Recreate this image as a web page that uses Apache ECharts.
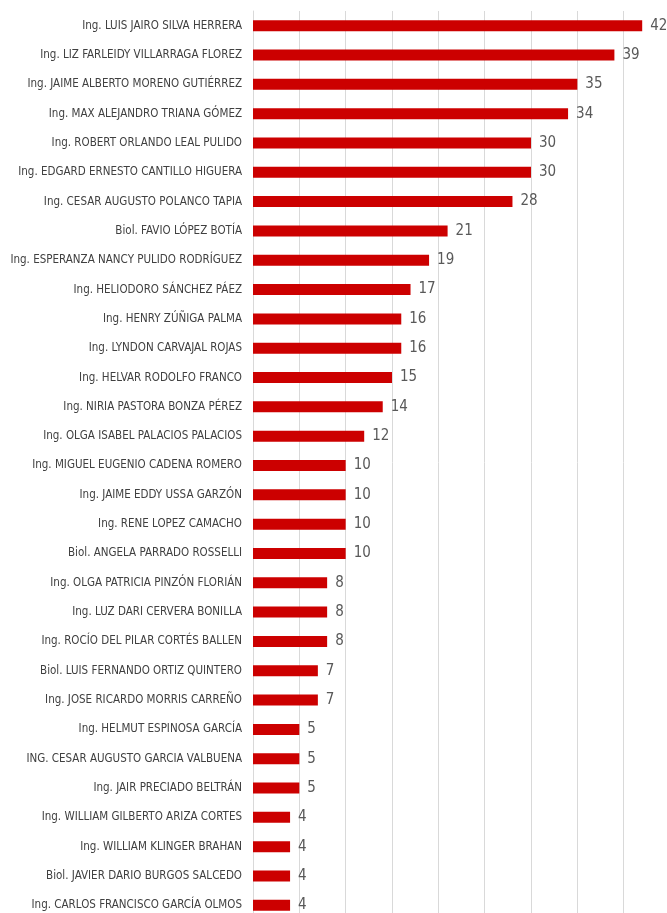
<!DOCTYPE html>
<html>
<head>
<meta charset="utf-8">
<script src="https://cdn.jsdelivr.net/npm/echarts@6/dist/echarts.min.js"></script>
<style>
  html, body { margin: 0; padding: 0; background: #fff; overflow: hidden; }
  #chart { width: 667px; height: 913px; }
</style>
</head>
<body>
<div id="chart"></div>
<script>
var names = [
  'Ing. LUIS JAIRO SILVA HERRERA',
  'Ing. LIZ FARLEIDY VILLARRAGA FLOREZ',
  'Ing. JAIME ALBERTO MORENO GUTIÉRREZ',
  'Ing. MAX ALEJANDRO TRIANA GÓMEZ',
  'Ing. ROBERT ORLANDO LEAL PULIDO',
  'Ing. EDGARD ERNESTO CANTILLO HIGUERA',
  'Ing. CESAR AUGUSTO POLANCO TAPIA',
  'Biol. FAVIO LÓPEZ BOTÍA',
  'Ing. ESPERANZA NANCY PULIDO RODRÍGUEZ',
  'Ing. HELIODORO SÁNCHEZ PÁEZ',
  'Ing. HENRY ZÚÑIGA PALMA',
  'Ing. LYNDON CARVAJAL ROJAS',
  'Ing. HELVAR RODOLFO FRANCO',
  'Ing. NIRIA PASTORA BONZA PÉREZ',
  'Ing. OLGA ISABEL PALACIOS PALACIOS',
  'Ing. MIGUEL EUGENIO CADENA ROMERO',
  'Ing. JAIME EDDY USSA GARZÓN',
  'Ing. RENE LOPEZ CAMACHO',
  'Biol. ANGELA PARRADO ROSSELLI',
  'Ing. OLGA PATRICIA PINZÓN FLORIÁN',
  'Ing. LUZ DARI CERVERA BONILLA',
  'Ing. ROCÍO DEL PILAR CORTÉS BALLEN',
  'Biol. LUIS FERNANDO ORTIZ QUINTERO',
  'Ing. JOSE RICARDO MORRIS CARREÑO',
  'Ing. HELMUT ESPINOSA GARCÍA',
  'ING. CESAR AUGUSTO GARCIA VALBUENA',
  'Ing. JAIR PRECIADO BELTRÁN',
  'Ing. WILLIAM GILBERTO ARIZA CORTES',
  'Ing. WILLIAM KLINGER BRAHAN',
  'Biol. JAVIER DARIO BURGOS SALCEDO',
  'Ing. CARLOS FRANCISCO GARCÍA OLMOS'
]
var counts = [42, 39, 35, 34, 30, 30, 28, 21, 19, 17, 16, 16, 15, 14, 12, 10, 10, 10, 10, 8, 8, 8, 7, 7, 5, 5, 5, 4, 4, 4, 4]

var font = '"DejaVu Sans Condensed", "Liberation Sans Narrow", sans-serif'

var chart = echarts.init(document.getElementById('chart'))
chart.setOption({
  animation: false,
  grid: { left: 253, top: 11, width: 417, height: 909, containLabel: false, outerBoundsMode: 'none' },
  xAxis: {
    type: 'value',
    min: 0,
    max: 45,
    interval: 5,
    axisLabel: { show: false },
    axisLine: { show: false },
    axisTick: { show: false },
    splitLine: { lineStyle: { color: '#d9d9d9', width: 1 } }
  },
  yAxis: {
    type: 'category',
    inverse: true,
    data: names,
    axisTick: { show: false },
    axisLine: { lineStyle: { color: '#d9d9d9' } },
    axisLabel: { color: '#404040', fontSize: 11.5, fontFamily: font, margin: 11 }
  },
  series: [{
    type: 'bar',
    data: counts,
    barWidth: 11,
    itemStyle: { color: '#cc0000' },
    label: {
      show: true,
      position: 'right',
      distance: 8,
      color: '#595959',
      fontSize: 15,
      fontFamily: font
    }
  }]
})
</script>
</body>
</html>
